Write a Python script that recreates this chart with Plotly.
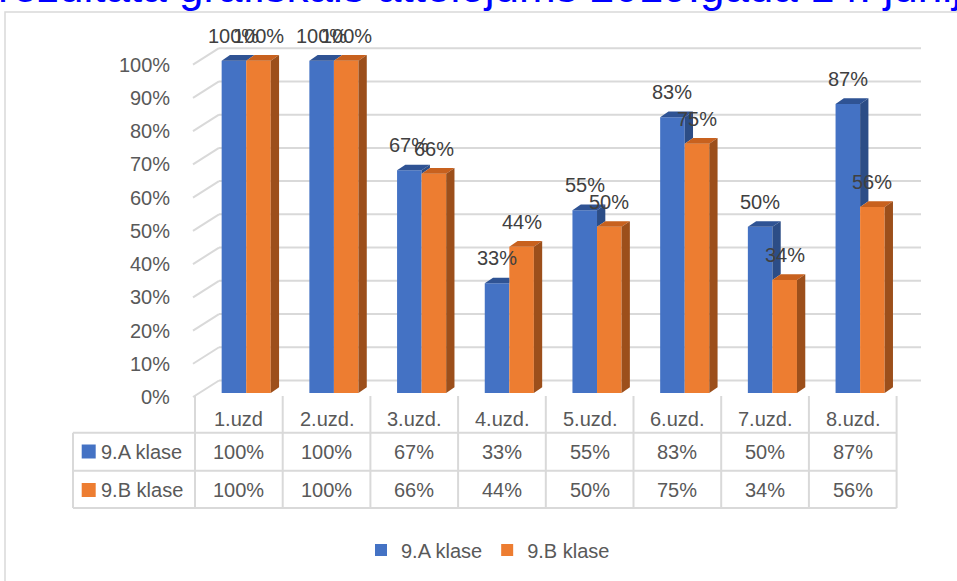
import plotly.graph_objects as go

# ---------------- data ----------------
categories = ["1.uzd", "2.uzd.", "3.uzd.", "4.uzd.", "5.uzd.", "6.uzd.", "7.uzd.", "8.uzd."]
series_names = ["9.A klase", "9.B klase"]
class_a = [100, 100, 67, 33, 55, 83, 50, 87]
class_b = [100, 100, 66, 44, 50, 75, 34, 56]
tick_values = [0, 10, 20, 30, 40, 50, 60, 70, 80, 90, 100]
tick_labels = ["0%", "10%", "20%", "30%", "40%", "50%", "60%", "70%", "80%", "90%", "100%"]
title_text = "rezultāta grafiskais attēlojums 2019.gada 14. jūnijā"

# ---------------- layout geometry ----------------
W, H = 957, 581
X0PX, CW = 195.0, 87.7      # left edge of first category column, column width (px)
Y0PX, VS = 393.0, 332.3     # pixel of 0 %, pixels per 100 %


def cx(px):
    return (px - X0PX) / CW - 0.5


def vy(py):
    return (Y0PX - py) / VS


FONT = "Liberation Sans"
GRAY = "#595959"
LBL = "#404040"
GRID = "#D9D9D9"
BLUE, BLUE_TOP, BLUE_SIDE = "#4472C4", "#2F5394", "#2C4D86"
ORANGE, ORANGE_TOP, ORANGE_SIDE = "#ED7D31", "#C8611E", "#9C4F1B"

BW = 0.28               # bar width in category units
OFF_A = -0.196          # offset of blue bar
OFF_B = OFF_A + BW      # offset of orange bar
DX = 8.3 / CW           # 3D depth (x)
DY = 5.7 / VS           # 3D depth (y)

n = len(categories)
xs = list(range(n))
va = [v / 100 for v in class_a]
vb = [v / 100 for v in class_b]

fig = go.Figure()

fig.add_trace(go.Bar(x=xs, y=va, width=BW, offset=OFF_A, name=series_names[0],
                     marker=dict(color=BLUE, line=dict(width=0)), hoverinfo="skip"))
fig.add_trace(go.Bar(x=xs, y=vb, width=BW, offset=OFF_B, name=series_names[1],
                     marker=dict(color=ORANGE, line=dict(width=0)), hoverinfo="skip"))

# 3D faces computed from data
bt_x, bt_y, bs_x, bs_y, ot_x, ot_y, os_x, os_y = [], [], [], [], [], [], [], []
for i in xs:
    a, b = va[i], vb[i]
    x0 = i + OFF_A
    x1 = x0 + BW
    x2 = x1 + BW
    # blue top
    if b > a:
        bt_x += [x0, x0 + DX, x1, x1, x0, None]
        bt_y += [a, a + DY, a + DY, a, a, None]
    else:
        bt_x += [x0, x0 + DX, x1 + DX, x1, x0, None]
        bt_y += [a, a + DY, a + DY, a, a, None]
    # blue side (visible part above orange)
    if a > b:
        bs_x += [x1, x1 + DX, x1 + DX, x1, x1, None]
        bs_y += [b, b + DY, a + DY, a, b, None]
    # orange top
    ot_x += [x1, x1 + DX, x2 + DX, x2, x1, None]
    ot_y += [b, b + DY, b + DY, b, b, None]
    # orange side
    os_x += [x2, x2 + DX, x2 + DX, x2, x2, None]
    os_y += [0, DY, b + DY, b, 0, None]

for px_, py_, col in [(bt_x, bt_y, BLUE_TOP), (bs_x, bs_y, BLUE_SIDE),
                      (ot_x, ot_y, ORANGE_TOP), (os_x, os_y, ORANGE_SIDE)]:
    if px_:
        fig.add_trace(go.Scatter(x=px_, y=py_, mode="lines", fill="toself", fillcolor=col,
                                 line=dict(width=0, color=col), showlegend=False,
                                 hoverinfo="skip"))

shapes = []
# chart border (left + top)
shapes.append(dict(type="path", xref="paper", yref="paper",
                   path=f"M {5/W},0 L {5/W},{1-12/H} L 1.02,{1-12/H}",
                   line=dict(color=GRID, width=1.5)))

# gridlines on back wall + stubs on left wall
BACK = 12.5 / VS
FRONT = 4.0 / VS
for t in tick_values:
    v = t / 100
    shapes.append(dict(type="line", xref="x", yref="y", x0=cx(219), x1=cx(921),
                       y0=v + BACK, y1=v + BACK, line=dict(color=GRID, width=2), layer="below"))
    shapes.append(dict(type="line", xref="x", yref="y", x0=cx(193), x1=cx(219),
                       y0=v - FRONT, y1=v + BACK, line=dict(color=GRID, width=2), layer="below"))

# data table lines
tab_top = vy(396)
row1 = vy(432.7)
row2 = vy(470.7)
row3 = vy(508)
for k in range(n + 1):
    shapes.append(dict(type="line", xref="x", yref="y", x0=k - 0.5, x1=k - 0.5,
                       y0=tab_top, y1=row3, line=dict(color=GRID, width=2)))
shapes.append(dict(type="line", xref="x", yref="y", x0=cx(73), x1=cx(73),
                   y0=row1, y1=row3, line=dict(color=GRID, width=2)))
for yy in [row1, row2, row3]:
    shapes.append(dict(type="line", xref="x", yref="y", x0=cx(73), x1=n - 0.5,
                       y0=yy, y1=yy, line=dict(color=GRID, width=2)))
# legend keys in table
for yc, col in [(451.5, BLUE), (490, ORANGE)]:
    shapes.append(dict(type="rect", xref="x", yref="y", x0=cx(81.7), x1=cx(95.7),
                       y0=vy(yc - 7), y1=vy(yc + 7), line=dict(width=0), fillcolor=col))

ann = []
# title (clipped at top of page)
ann.append(dict(text=title_text, xref="paper", yref="paper", x=-4 / W, y=1 - 13.0 / H,
                xanchor="left", yanchor="bottom", showarrow=False,
                font=dict(family=FONT, size=44, color="#0000FF")))
# y tick labels
for t, lab in zip(tick_values, tick_labels):
    ann.append(dict(text=lab, xref="x", yref="y", x=cx(172), y=t / 100, yshift=-4,
                    xanchor="right", yanchor="middle", showarrow=False,
                    font=dict(family=FONT, size=20, color=GRAY)))
# data labels
for vals, pct, off in [(va, class_a, OFF_A), (vb, class_b, OFF_B)]:
    for i in xs:
        ann.append(dict(text=f"{pct[i]}%", xref="x", yref="y", x=i + off + BW / 2, y=vals[i],
                        yshift=25, xanchor="center", yanchor="middle", showarrow=False,
                        font=dict(family=FONT, size=20, color=LBL)))
# table text
for i, c in enumerate(categories):
    ann.append(dict(text=c, xref="x", yref="y", x=i, y=vy(419), xanchor="center",
                    yanchor="middle", showarrow=False, font=dict(family=FONT, size=20, color=GRAY)))
    ann.append(dict(text=f"{class_a[i]}%", xref="x", yref="y", x=i, y=vy(451.5), xanchor="center",
                    yanchor="middle", showarrow=False, font=dict(family=FONT, size=20, color=GRAY)))
    ann.append(dict(text=f"{class_b[i]}%", xref="x", yref="y", x=i, y=vy(490), xanchor="center",
                    yanchor="middle", showarrow=False, font=dict(family=FONT, size=20, color=GRAY)))
for name, yc in zip(series_names, [451.5, 490]):
    ann.append(dict(text=name, xref="x", yref="y", x=cx(99), y=vy(yc), xanchor="left",
                    yanchor="middle", showarrow=False, font=dict(family=FONT, size=20, color=GRAY)))

fig.update_layout(
    width=W, height=H,
    margin=dict(l=0, r=0, t=0, b=0),
    paper_bgcolor="white", plot_bgcolor="white",
    barmode="overlay",
    xaxis=dict(visible=False, range=[cx(0), cx(W)], fixedrange=True),
    yaxis=dict(visible=False, range=[vy(H), vy(0)], fixedrange=True),
    shapes=shapes,
    annotations=ann,
    showlegend=True,
    legend=dict(orientation="h", x=488 / W, xanchor="center", y=1 - 550 / H, yanchor="middle",
                font=dict(family=FONT, size=20, color=GRAY), bgcolor="rgba(0,0,0,0)",
                traceorder="normal", itemwidth=30),
)

fig.write_html("out.html", config=dict(displayModeBar=False),
               post_script="document.body.style.margin='0px';document.body.style.overflow='hidden';")
